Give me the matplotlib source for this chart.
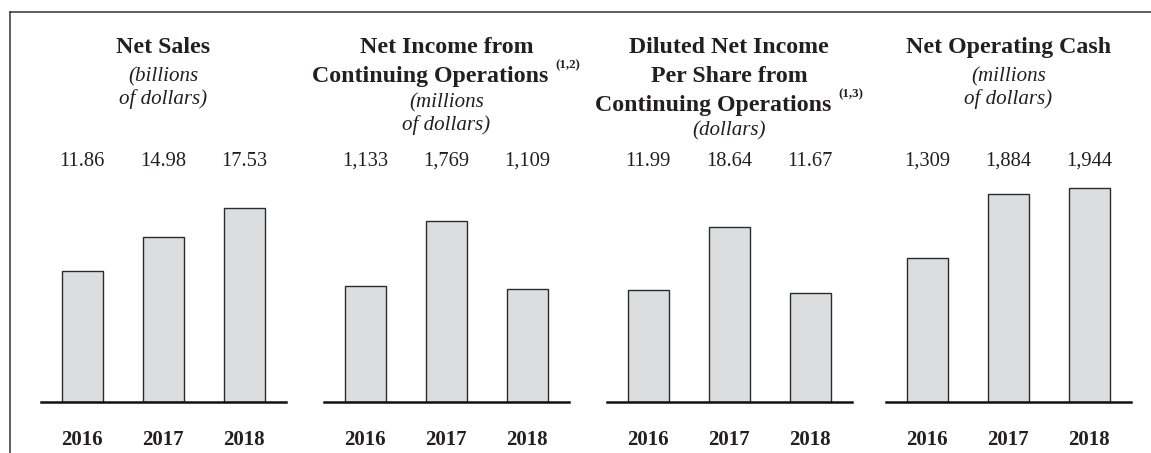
import matplotlib
matplotlib.use("Agg")
import matplotlib.pyplot as plt
from matplotlib.lines import Line2D
from matplotlib.transforms import blended_transform_factory

# ---------------- data ----------------
years = ["2016", "2017", "2018"]
net_sales = [11.86, 14.98, 17.53]                 # billions of dollars
net_income_cont = [1133, 1769, 1109]              # millions of dollars
diluted_eps_cont = [11.99, 18.64, 11.67]          # dollars
net_operating_cash = [1309, 1884, 1944]           # millions of dollars

panel_values = [net_sales, net_income_cont, diluted_eps_cont, net_operating_cash]
panel_formats = ["{:.2f}", "{:,}", "{:.2f}", "{:,}"]
panel_titles = [
    ["Net Sales"],
    ["Net Income from", "Continuing Operations"],
    ["Diluted Net Income", "Per Share from", "Continuing Operations"],
    ["Net Operating Cash"],
]
panel_notes = [None, "(1,2)", "(1,3)", None]
panel_units = [
    ["(billions", "of dollars)"],
    ["(millions", "of dollars)"],
    ["(dollars)"],
    ["(millions", "of dollars)"],
]
# axis upper limits (each panel has its own zero-based scale)
panel_ymax = [22.8, 2468, 26.9, 2286]

# ---------------- layout / style ----------------
W, H = 1151, 453
DPI = 100
FONT = "Liberation Serif"
TXT = "#231f20"
BAR_FILL = "#dcdddf"
BAR_EDGE = "#2b2b2b"

panel_left_px = [41, 324, 607, 886]
panel_width_px = 244.5
panel_base_px = [402.3, 402.3, 402.3, 401.7]
axes_top_px = 150

fig = plt.figure(figsize=(W / DPI, H / DPI), dpi=DPI)
fig.patch.set_facecolor("white")


def fx(x):
    return x / W


def fy(y):
    return 1 - y / H


# frame lines (top and left)
fig.add_artist(Line2D([fx(10), fx(W)], [fy(12.3), fy(12.3)], color="#333333",
                      lw=1.1, transform=fig.transFigure))
fig.add_artist(Line2D([fx(10), fx(10)], [fy(12.3), fy(H)], color="#333333",
                      lw=1.1, transform=fig.transFigure))

renderer = fig.canvas.get_renderer()

for i in range(4):
    L = panel_left_px[i]
    base = panel_base_px[i]
    ax = fig.add_axes([fx(L), fy(base), fx(panel_width_px), (base - axes_top_px) / H])
    vals = panel_values[i]
    xs = list(range(len(years)))
    ax.bar(xs, vals, width=0.506, color=BAR_FILL, edgecolor=BAR_EDGE,
           linewidth=1.0, zorder=2)
    ax.set_xlim(-0.51, 2.51)
    ax.set_ylim(0, panel_ymax[i])
    for s in ["top", "left", "right"]:
        ax.spines[s].set_visible(False)
    ax.spines["bottom"].set_linewidth(1.8)
    ax.spines["bottom"].set_color("#111111")
    ax.spines["bottom"].set_zorder(3)
    ax.set_xticks([])
    ax.set_yticks([])
    ax.patch.set_alpha(0)

    tr = blended_transform_factory(ax.transData, fig.transFigure)
    for x, v, yr in zip(xs, vals, years):
        ax.text(x, fy(165.5), panel_formats[i].format(v), transform=tr,
                ha="center", va="baseline", fontsize=14.8, family=FONT, color=TXT)
        ax.text(x, fy(445), yr, transform=tr, ha="center", va="baseline",
                fontsize=15, family=FONT, weight="bold", color=TXT)

    cx = L + panel_width_px / 2
    # bold title lines
    y = 53.3
    n = len(panel_titles[i])
    for k, line in enumerate(panel_titles[i]):
        t = fig.text(fx(cx), fy(y), line, ha="center", va="baseline",
                     fontsize=17.2, family=FONT, weight="bold", color=TXT)
        if k == n - 1 and panel_notes[i]:
            s = fig.text(0, fy(y - 13.5), panel_notes[i], ha="left", va="baseline",
                         fontsize=9.4, family=FONT, weight="bold", color=TXT)
            wm = t.get_window_extent(renderer).width
            ws = s.get_window_extent(renderer).width
            gap = 7.0
            left = cx - (wm + gap + ws) / 2
            t.set_ha("left")
            t.set_x(fx(left))
            s.set_x(fx(left + wm + gap))
        if k < n - 1:
            y += 28.8
    # italic unit lines
    y += 28 if n == 1 else 25
    for line in panel_units[i]:
        fig.text(fx(cx), fy(y), line, ha="center", va="baseline",
                 fontsize=15.1, family=FONT, style="italic", color=TXT)
        y += 23

fig.savefig("out.png", dpi=DPI)
